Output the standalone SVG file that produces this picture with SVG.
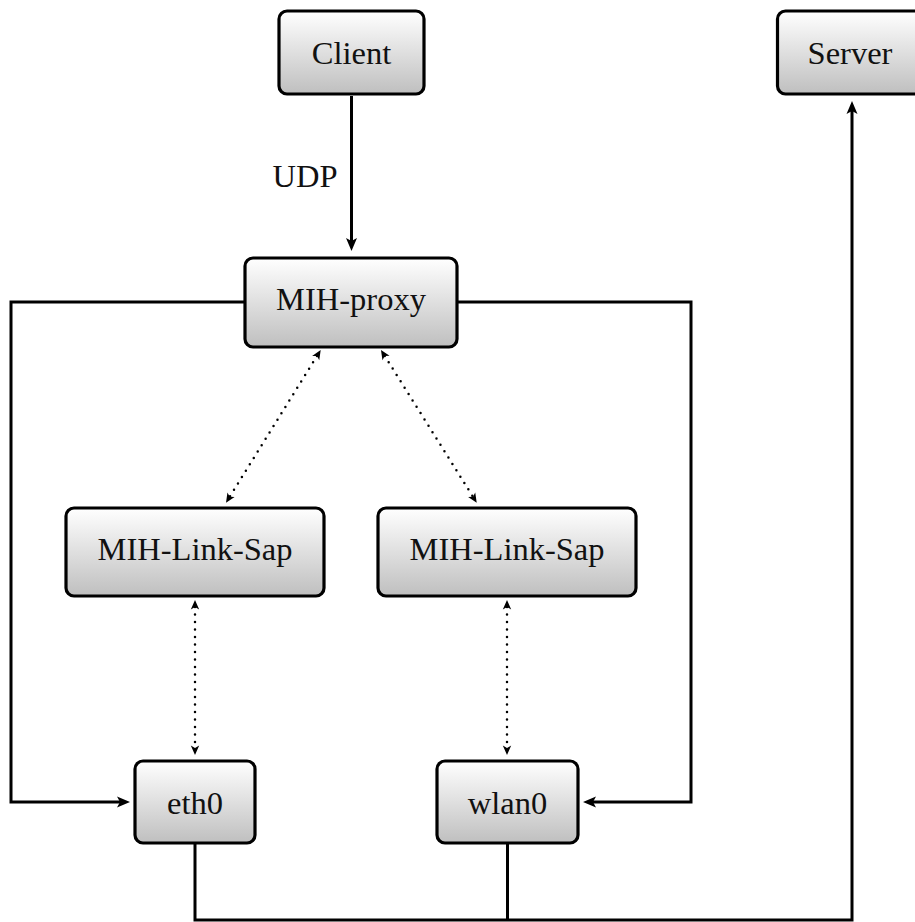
<svg xmlns="http://www.w3.org/2000/svg" width="915" height="922" viewBox="0 0 915 922">
<defs>
<linearGradient id="g" x1="0" y1="0" x2="0" y2="1">
<stop offset="0" stop-color="#ffffff"/>
<stop offset="1" stop-color="#bfbfbf"/>
</linearGradient>
<marker id="ah" markerUnits="userSpaceOnUse" markerWidth="16" markerHeight="14" refX="4" refY="7" orient="auto" overflow="visible">
<path d="M14,7 L1,1.5 L4,7 L1,12.5 Z" fill="#000"/>
</marker>
<marker id="dh" markerUnits="userSpaceOnUse" markerWidth="12" markerHeight="10" refX="3" refY="5" orient="auto-start-reverse" overflow="visible">
<path d="M10,5 L0.5,0.8 L3,5 L0.5,9.2 Z" fill="#000"/>
</marker>
<style>
.box{fill:url(#g);stroke:#000;stroke-width:3.2}
.lbl{font-family:"Liberation Serif","DejaVu Serif",serif;font-size:32.5px;fill:#111;text-anchor:middle}
.ln{fill:none;stroke:#000;stroke-width:3;stroke-linejoin:miter}
.dot{fill:none;stroke:#000;stroke-width:2.5;stroke-linecap:round;stroke-dasharray:0 7.5}
</style>
</defs>
<g id="connectors">
<path class="ln" d="M351.5,96 L351.5,241" marker-end="url(#ah)"/>
<path class="ln" d="M245,302 L11,302 L11,802 L120,802" marker-end="url(#ah)"/>
<path class="ln" d="M457,302 L691,302 L691,802 L593,802" marker-end="url(#ah)"/>
<path class="ln" d="M195,843 L195,920 L852,920 L852,111" marker-end="url(#ah)"/>
<path class="ln" d="M507.5,843 L507.5,920"/>
<path class="dot" d="M317,356 L229.7,496.8" marker-start="url(#dh)" marker-end="url(#dh)"/>
<path class="dot" d="M384.7,355.9 L473,496.8" marker-start="url(#dh)" marker-end="url(#dh)"/>
<path class="dot" d="M195,607 L195,748" marker-start="url(#dh)" marker-end="url(#dh)"/>
<path class="dot" d="M507,607 L507,748" marker-start="url(#dh)" marker-end="url(#dh)"/>
<text class="lbl" x="305" y="187">UDP</text>
</g>
<g id="client">
<rect class="box" x="279" y="11" width="145" height="83" rx="8"/>
<text class="lbl" x="351.5" y="64">Client</text>
</g>
<g id="server">
<rect class="box" x="777.5" y="11" width="147" height="83" rx="8"/>
<text class="lbl" x="850" y="63.5">Server</text>
</g>
<g id="mih-proxy">
<rect class="box" x="245" y="258" width="212" height="89" rx="8"/>
<text class="lbl" x="351" y="310">MIH-proxy</text>
</g>
<g id="link-sap-1">
<rect class="box" x="66" y="508" width="258" height="88" rx="8"/>
<text class="lbl" x="195" y="560">MIH-Link-Sap</text>
</g>
<g id="link-sap-2">
<rect class="box" x="378" y="508" width="258" height="88" rx="8"/>
<text class="lbl" x="507" y="560">MIH-Link-Sap</text>
</g>
<g id="eth0">
<rect class="box" x="135" y="761" width="120" height="82" rx="8"/>
<text class="lbl" x="195" y="814">eth0</text>
</g>
<g id="wlan0">
<rect class="box" x="437" y="761" width="141" height="82" rx="8"/>
<text class="lbl" x="507.5" y="814">wlan0</text>
</g>
</svg>
